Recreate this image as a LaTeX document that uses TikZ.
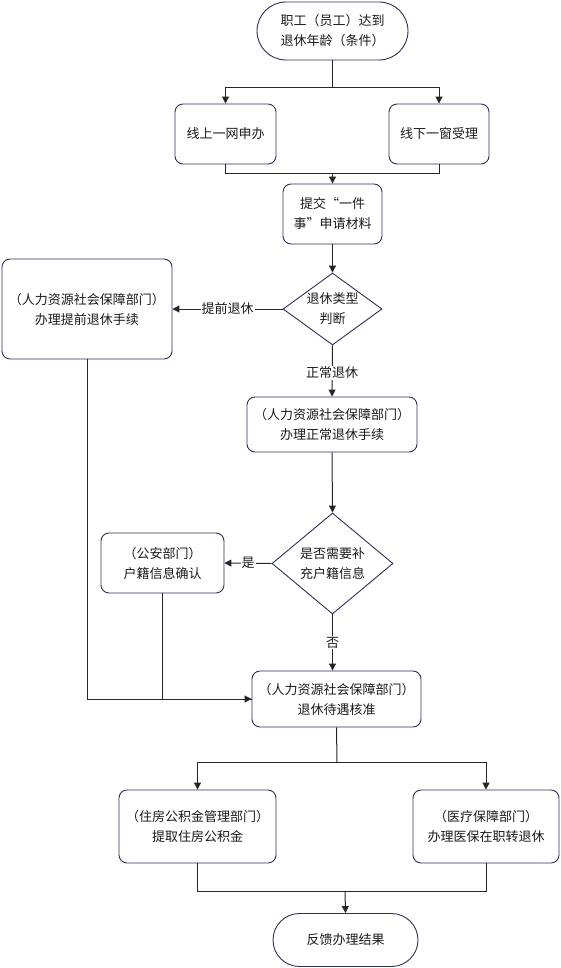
\documentclass[tikz,border=0pt]{standalone}
\usepackage{fontspec}
\setmainfont{Noto Sans CJK SC}
\usetikzlibrary{shapes.geometric,shapes.misc,arrows.meta}
\definecolor{bordc}{HTML}{2A3356}
\definecolor{txtc}{HTML}{1A1A1A}
\tikzset{
  box/.style={draw=bordc, line width=0.9pt, rounded corners=8pt, align=center, text=txtc, font=\fontsize{13}{20}\selectfont, inner sep=0pt},
  term/.style={draw=bordc, line width=0.9pt, rounded rectangle, align=center, text=txtc, font=\fontsize{13}{20}\selectfont, inner sep=0pt},
  dec/.style={draw=bordc, line width=0.9pt, diamond, align=center, text=txtc, font=\fontsize{13}{20}\selectfont, inner sep=0pt},
  conn/.style={draw=black!85, line width=1pt},
  arr/.style={conn, -{Triangle[length=7pt,width=7pt]}},
  lab/.style={fill=white, text=txtc, font=\fontsize{13}{16}\selectfont, inner sep=1pt}
}
\begin{document}
\begin{tikzpicture}[x=1pt,y=-1pt]
\useasboundingbox (0,0) rectangle (560,968);
% nodes
\node[term, minimum width=151pt, minimum height=58pt] (start) at (332.5,31) {职工（员工）达到\\退休年龄（条件）};
\node[box, minimum width=101pt, minimum height=60pt] (online) at (225.5,134) {线上一网申办};
\node[box, minimum width=100pt, minimum height=60pt] (offline) at (439,134) {线下一窗受理};
\node[box, minimum width=99pt, minimum height=60pt] (submit) at (332.5,214) {提交“一件\\事”申请材料};
\node[dec, aspect=1.375, minimum width=99pt, minimum height=72pt] (type) at (332.5,309) {退休类型\\判断};
\node[box, minimum width=170pt, minimum height=100pt] (early) at (87,309) {（人力资源社会保障部门）\\办理提前退休手续};
\node[box, minimum width=170pt, minimum height=55pt] (normal) at (332,424.5) {（人力资源社会保障部门）\\办理正常退休手续};
\node[dec, aspect=1.2, minimum width=121pt, minimum height=101pt] (need) at (332.5,563.5) {是否需要补\\充户籍信息};
\node[box, minimum width=123pt, minimum height=60pt] (police) at (162.5,563) {（公安部门）\\户籍信息确认};
\node[box, minimum width=169pt, minimum height=56pt] (approve) at (336.5,699) {（人力资源社会保障部门）\\退休待遇核准};
\node[box, minimum width=157pt, minimum height=73pt] (fund) at (197.5,826.5) {（住房公积金管理部门）\\提取住房公积金};
\node[box, minimum width=146pt, minimum height=73pt] (med) at (486,826.5) {（医疗保障部门）\\办理医保在职转退休};
\node[term, minimum width=145pt, minimum height=53pt] (end) at (345.5,940) {反馈办理结果};
% coordinates
\coordinate (s1) at (332.5,88);
\coordinate (j1) at (332.5,174);
\coordinate (a1) at (337,762);
\coordinate (j2) at (345,891);
\coordinate (c1) at (87,699);
% connectors
\draw[conn] (start.south) -- (s1);
\draw[arr] (s1) -| (online.north);
\draw[arr] (s1) -| (offline.north);
\draw[conn] (online.south) |- (j1);
\draw[conn] (offline.south) |- (j1);
\draw[arr] (j1) -- (submit.north);
\draw[arr] (submit.south) -- (type.north);
\draw[arr] (type.west) -- node[lab]{提前退休} (early.east);
\draw[arr] (type.south) -- node[lab, pos=0.54]{正常退休} (normal.north);
\draw[arr] (normal.south) -- (need.north);
\draw[arr] (need.west) -- node[lab, pos=0.5]{是} (police.east);
\draw[arr] (need.south) -- node[lab, pos=0.5]{否} (need.south |- approve.north);
\draw[conn] (early.south) -- (c1);
\draw[arr] (c1) -- (approve.west);
\draw[conn] (police.south) |- (approve.west);
\draw[conn] (approve.south) -- (a1);
\draw[arr] (a1) -| (fund.north);
\draw[arr] (a1) -| (med.north);
\draw[conn] (fund.south) |- (j2);
\draw[conn] (med.south) |- (j2);
\draw[arr] (j2) -- (end.north);
\end{tikzpicture}
\end{document}
